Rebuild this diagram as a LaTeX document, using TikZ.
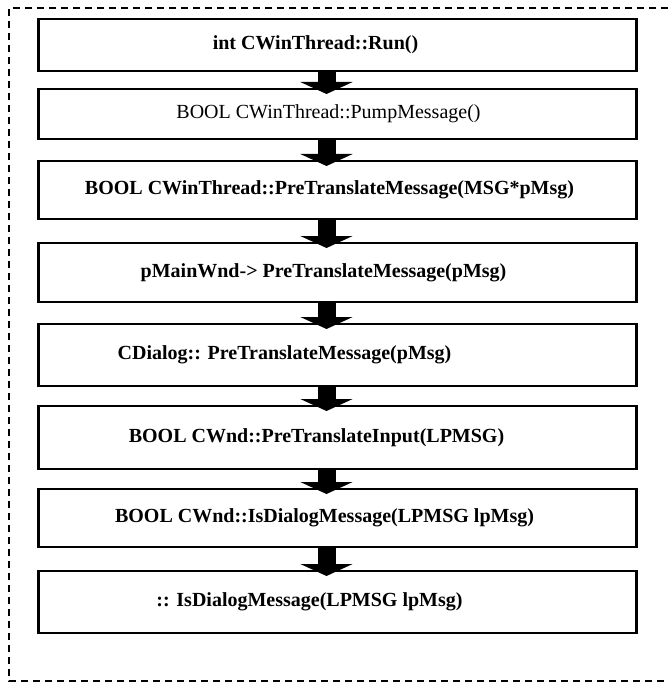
\documentclass[tikz,border=0pt]{standalone}
\usepackage{fontspec}
\setmainfont{Liberation Serif}
\usetikzlibrary{arrows.meta}

\tikzset{
  callbox/.style={draw, line width=2.4pt, fill=white, minimum width=598pt, minimum height=#1, inner sep=0pt},
  calltext/.style={font=\fontsize{20}{22}\selectfont\bfseries, inner sep=0pt},
  callflow/.style={line width=18pt, -{Triangle[length=12pt,width=52pt]}, shorten >=-6pt},
}

\begin{document}
\begin{tikzpicture}[x=1pt,y=-1pt]
  \useasboundingbox (0,0) rectangle (668,687);
  % dashed frame, open on the right
  \draw[line width=1.8pt, dash pattern=on 7pt off 5pt] (668,8) -- (9,8) -- (9,681) -- (668,681);

  \node[callbox=51.6pt] (run) at (337.5,45) {};
  \node[callbox=49.6pt] (pump) at (337.5,114) {};
  \node[callbox=57.6pt] (pretrans) at (337.5,190) {};
  \node[callbox=58.6pt] (mainwnd) at (337.5,272.5) {};
  \node[callbox=61.6pt] (dialog) at (337.5,355) {};
  \node[callbox=62.6pt] (input) at (337.5,437.5) {};
  \node[callbox=57.6pt] (wnddlg) at (337.5,518) {};
  \node[callbox=61.6pt] (apidlg) at (337.5,602) {};

  \node[calltext] (runtxt) at ([xshift=-22pt]run.center) {int CWinThread::Run()};
  \node[calltext, font=\fontsize{20}{22}\selectfont] (pumptxt) at ([xshift=-9pt]pump.center) {BOOL CWinThread::PumpMessage()};
  \node[calltext] (pretranstxt) at ([xshift=-8pt]pretrans.center) {BOOL CWinThread::PreTranslateMessage(MSG*pMsg)};
  \node[calltext] (mainwndtxt) at ([xshift=-14pt]mainwnd.center) {pMainWnd-> PreTranslateMessage(pMsg)};
  \node[calltext] (dialogtxt) at ([xshift=-53pt]dialog.center) {CDialog:: PreTranslateMessage(pMsg)};
  \node[calltext] (inputtxt) at ([xshift=-21pt]input.center) {BOOL CWnd::PreTranslateInput(LPMSG)};
  \node[calltext] (wnddlgtxt) at ([xshift=-13pt]wnddlg.center) {BOOL CWnd::IsDialogMessage(LPMSG lpMsg)};
  \node[calltext] (apidlgtxt) at ([xshift=-28pt]apidlg.center) {:: IsDialogMessage(LPMSG lpMsg)};

  \draw[callflow] ([xshift=-11pt]run.south) -- ([xshift=-11pt]pump.north);
  \draw[callflow] ([xshift=-11pt]pump.south) -- ([xshift=-11pt]pretrans.north);
  \draw[callflow] ([xshift=-11pt]pretrans.south) -- ([xshift=-11pt]mainwnd.north);
  \draw[callflow] ([xshift=-11pt]mainwnd.south) -- ([xshift=-11pt]dialog.north);
  \draw[callflow] ([xshift=-11pt]dialog.south) -- ([xshift=-11pt]input.north);
  \draw[callflow] ([xshift=-11pt]input.south) -- ([xshift=-11pt]wnddlg.north);
  \draw[callflow] ([xshift=-11pt]wnddlg.south) -- ([xshift=-11pt]apidlg.north);
\end{tikzpicture}
\end{document}
